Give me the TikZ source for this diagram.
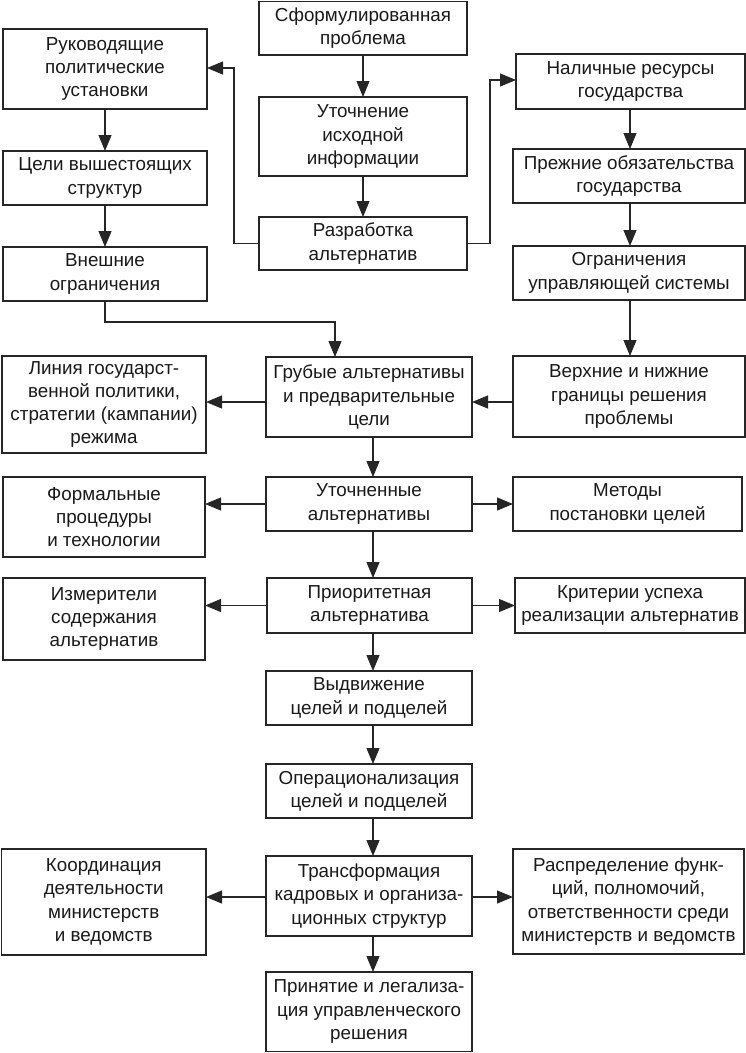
\documentclass[tikz,border=0pt]{standalone}
\usepackage{fontspec}
\setmainfont{Liberation Sans}
\usetikzlibrary{arrows.meta}
\tikzset{
  box/.style={draw=black!85, line width=1.4pt, align=center, inner sep=0pt, outer sep=0pt,
    text=black!90, font=\fontsize{18.8}{23.3}\selectfont},
  arr/.style={draw=black!85, line width=1.1pt, -{Triangle[length=16pt,width=13pt]}},
}
\newcommand\mybox[6]{%
  \node[box, minimum width={#4-#2}, minimum height={#5-#3}] (#1) at ({(#2+#4)/2},{(#3+#5)/2}) {#6};}
\begin{document}
\begin{tikzpicture}[x=1pt,y=-1pt]
\useasboundingbox (0,0) rectangle (746,1053);
% centre column
\mybox{sform}{259}{1.5}{467}{55}{Сформулированная\\проблема}
\mybox{utoch}{259}{97}{467}{176}{Уточнение\\исходной\\информации}
\mybox{razr}{259}{217}{467}{270}{Разработка\\альтернатив}
\mybox{grub}{266}{357}{472}{437}{Грубые альтернативы\\и предварительные\\цели}
\mybox{utalt}{266}{477}{472}{531}{Уточненные\\альтернативы}
\mybox{prior}{267}{578}{472}{633}{Приоритетная\\альтернатива}
\mybox{vydv}{266}{671}{472}{725}{Выдвижение\\целей и подцелей}
\mybox{oper}{266}{764}{472}{818}{Операционализация\\целей и подцелей}
\mybox{trans}{266}{856}{472}{936}{Трансформация\\кадровых и организа-\\ционных структур}
\mybox{prin}{266}{972}{472}{1051.5}{Принятие и легализа-\\ция управленческого\\решения}
% left column
\mybox{ruk}{3}{29}{207}{109}{Руководящие\\политические\\установки}
\mybox{celi}{3}{151}{207}{205}{Цели вышестоящих\\структур}
\mybox{vnesh}{3}{247}{207}{301}{Внешние\\ограничения}
\mybox{linia}{2}{356}{206}{453}{Линия государст-\\венной политики,\\стратегии (кампании)\\режима}
\mybox{form}{3}{477}{205}{557}{Формальные\\процедуры\\и технологии}
\mybox{izm}{3}{578}{205}{660}{Измерители\\содержания\\альтернатив}
\mybox{koord}{1.5}{849}{206}{955}{Координация\\деятельности\\министерств\\и ведомств}
% right column
\mybox{nal}{516}{54}{745}{109}{Наличные ресурсы\\государства}
\mybox{prezh}{513}{149}{745}{203}{Прежние обязательства\\государства}
\mybox{ogr}{513}{246}{745}{300}{Ограничения\\управляющей системы}
\mybox{verh}{513}{356}{745}{437}{Верхние и нижние\\границы решения\\проблемы}
\mybox{metod}{513}{477}{742}{531}{Методы\\постановки целей}
\mybox{krit}{515}{578}{745}{633}{Критерии успеха\\реализации альтернатив}
\mybox{raspr}{513}{849}{744}{954}{Распределение функ-\\ций, полномочий,\\ответственности среди\\министерств и ведомств}
% guide coordinates
\coordinate (axt) at (363,0);
\coordinate (axc) at (373,0);
\coordinate (axr) at (630,0);
\coordinate (k1) at (234,68);
\coordinate (k2) at (490,80);
\coordinate (k3) at (335,322);
\coordinate (yg) at (0,402);
\coordinate (yt) at (0,897);
% connectors
\draw[arr] (sform.south -| axt) -- (utoch.north -| axt);
\draw[arr] (utoch.south -| axt) -- (razr.north -| axt);
\draw[arr] (razr.west) -| (k1) -- (ruk.east |- k1);
\draw[arr] (razr.east) -| (k2) -- (nal.west |- k2);
\draw[arr] (ruk) -- (celi);
\draw[arr] (celi) -- (vnesh);
\draw[arr] (vnesh.south) |- (k3) -- (grub.north -| k3);
\draw[arr] (nal.south -| axr) -- (prezh.north -| axr);
\draw[arr] (prezh.south -| axr) -- (ogr.north -| axr);
\draw[arr] (ogr.south -| axr) -- (verh.north -| axr);
\draw[arr] (verh.west |- yg) -- (grub.east |- yg);
\draw[arr] (grub.west |- yg) -- (linia.east |- yg);
\draw[arr] (grub.south -| axc) -- (utalt.north -| axc);
\draw[arr] (utalt.west) -- (utalt.west -| form.east);
\draw[arr] (utalt.east) -- (utalt.east -| metod.west);
\draw[arr] (utalt.south -| axc) -- (prior.north -| axc);
\draw[arr] (prior.west) -- (prior.west -| izm.east);
\draw[arr] (prior.east) -- (prior.east -| krit.west);
\draw[arr] (prior.south -| axc) -- (vydv.north -| axc);
\draw[arr] (vydv.south -| axc) -- (oper.north -| axc);
\draw[arr] (oper.south -| axc) -- (trans.north -| axc);
\draw[arr] (trans.west |- yt) -- (koord.east |- yt);
\draw[arr] (trans.east |- yt) -- (raspr.west |- yt);
\draw[arr] (trans.south -| axc) -- (prin.north -| axc);
\end{tikzpicture}
\end{document}
